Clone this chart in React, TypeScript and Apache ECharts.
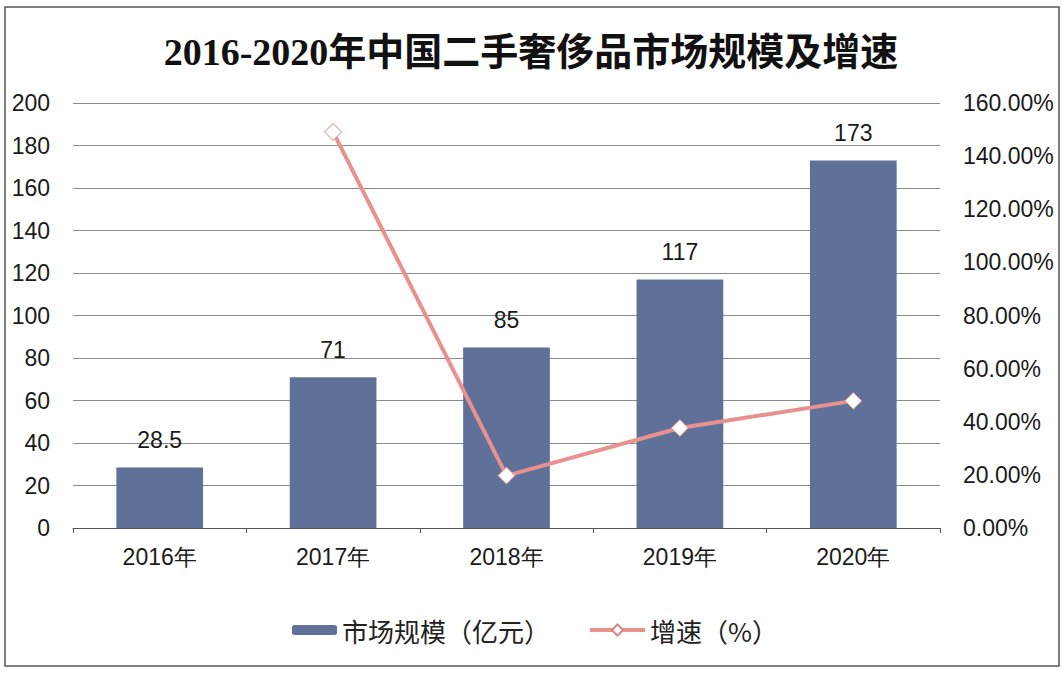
import React, { useEffect, useRef } from "react";
import * as echarts from "echarts";

const categories = ["2016年", "2017年", "2018年", "2019年", "2020年"];
const marketSize = [28.5, 71, 85, 117, 173];
const growthRate: (number | null)[] = [null, 149.12, 19.72, 37.65, 47.86];
const title = "2016-2020年中国二手奢侈品市场规模及增速";
const barName = "市场规模（亿元）";
const lineName = "增速（%）";

export default function App() {
  const ref = useRef<HTMLDivElement>(null);
  useEffect(() => {
    if (!ref.current) return;
    const chart = echarts.init(ref.current, null, { renderer: "svg" });
    const axisFont = { fontFamily: "Liberation Sans, Arial, sans-serif", fontSize: 23, color: "#1a1a1a" };
    chart.setOption({
      animation: false,
      backgroundColor: "#ffffff",
      title: {
        text: title,
        left: "center",
        top: 28,
        textStyle: {
          fontFamily: "Liberation Serif, Noto Sans CJK SC, serif",
          fontWeight: "bold",
          fontSize: 38,
          color: "#111",
        },
      },
      graphic: [
        {
          type: "rect",
          shape: { x: 5, y: 7, width: 1054, height: 659 },
          style: { fill: "none", stroke: "#555", lineWidth: 1.5 },
          silent: true,
          z: 100,
        },
      ],
      legend: [
        {
          data: [barName],
          left: 287,
          top: 612,
          itemWidth: 45,
          itemHeight: 10,
          itemGap: 8,
          textStyle: { fontFamily: "Noto Sans CJK SC, sans-serif", fontSize: 26, color: "#222" },
        },
        {
          data: [lineName],
          left: 583,
          top: 612,
          itemWidth: 55,
          itemHeight: 14,
          itemGap: 4,
          lineStyle: { width: 4, color: "#E8918F" },
          textStyle: { fontFamily: "Noto Sans CJK SC, sans-serif", fontSize: 26, color: "#222" },
        },
      ],
      grid: { left: 73, right: 122, top: 103, bottom: 146, containLabel: false },
      xAxis: {
        type: "category",
        data: categories,
        axisLine: { lineStyle: { color: "#555", width: 1 } },
        axisTick: { show: true, alignWithLabel: false, length: 5, lineStyle: { color: "#555" } },
        axisLabel: { ...axisFont, margin: 17 },
      },
      yAxis: [
        {
          type: "value",
          min: 0,
          max: 200,
          interval: 20,
          axisLine: { show: false },
          axisTick: { show: false },
          axisLabel: { ...axisFont, margin: 23 },
          splitLine: { lineStyle: { color: "#8a8a8a", width: 1 } },
        },
        {
          type: "value",
          min: 0,
          max: 160,
          interval: 20,
          position: "right",
          axisLine: { show: false },
          axisTick: { show: false },
          splitLine: { show: false },
          axisLabel: {
            ...axisFont,
            margin: 23,
            formatter: (v: number) => v.toFixed(2) + "%",
          },
        },
      ],
      series: [
        {
          name: barName,
          type: "bar",
          data: marketSize,
          barWidth: "50%",
          itemStyle: { color: "#5F7198" },
          label: {
            show: true,
            position: "top",
            distance: 16,
            ...axisFont,
          },
        },
        {
          name: lineName,
          type: "line",
          yAxisIndex: 1,
          data: growthRate,
          symbol: "diamond",
          symbolSize: 17,
          lineStyle: { color: "#E8918F", width: 4 },
          itemStyle: { color: "#ffffff", borderColor: "#D98482", borderWidth: 1 },
          z: 5,
        },
      ],
    });
    return () => chart.dispose();
  }, []);
  return (
    <div
      ref={ref}
      style={{ position: "fixed", left: 0, top: 0, width: 1062, height: 674 }}
    />
  );
}
